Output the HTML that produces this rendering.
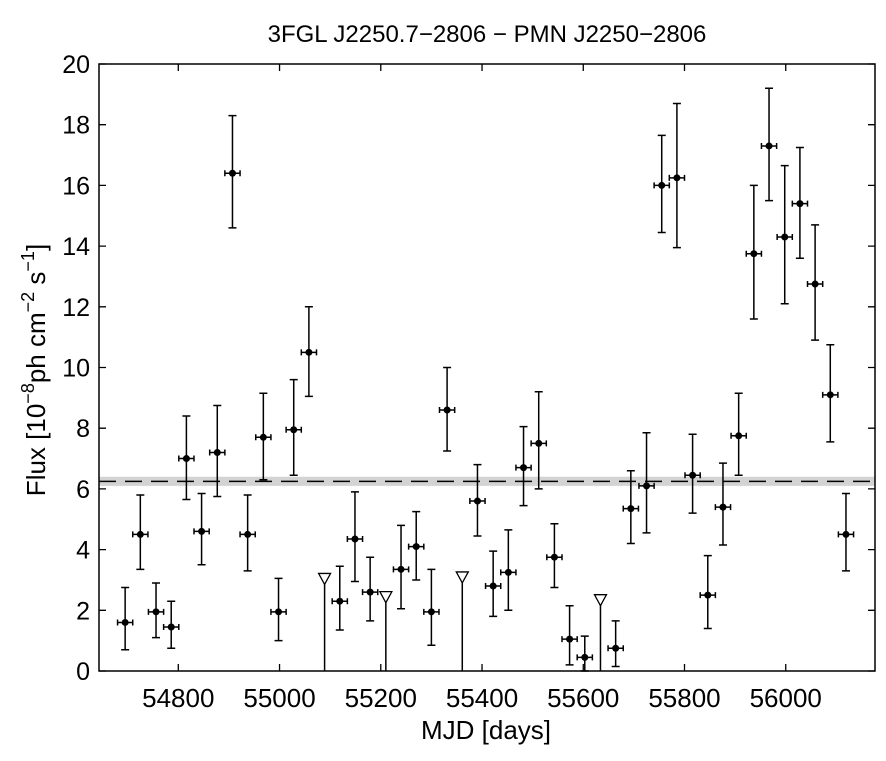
<!DOCTYPE html>
<html><head><meta charset="utf-8"><style>
body{margin:0;background:#fff}
svg{display:block;font-family:"Liberation Sans",sans-serif}
</style></head><body>
<svg id="c" width="886" height="761" viewBox="0 0 886 761">
<text x="487" y="42" font-size="24" text-anchor="middle">3FGL J2250.7−2806 − PMN J2250−2806</text>
<text x="486" y="739" font-size="26" text-anchor="middle">MJD [days]</text>
<text transform="translate(45,370) rotate(-90)" font-size="26" text-anchor="middle">Flux [10<tspan dy="-11" font-size="18">−8</tspan><tspan dy="11">ph cm</tspan><tspan dy="-11" font-size="18">−2</tspan><tspan dy="11"> s</tspan><tspan dy="-11" font-size="18">−1</tspan><tspan dy="11">]</tspan></text>
<g id="g"></g>
</svg>
<script>
const mjd=[54695,54725,54756,54786,54816,54846,54877,54907,54937,54968,54998,55028,55058,55089,55119,55149,55179,55210,55240,55270,55300,55331,55361,55391,55422,55452,55482,55512,55543,55573,55603,55634,55664,55694,55725,55755,55785,55816,55846,55876,55907,55937,55967,55998,56028,56058,56088,56119];
const flux=[1.6,4.5,1.95,1.45,7.0,4.6,7.2,16.4,4.5,7.7,1.95,7.95,10.5,3.05,2.3,4.35,2.6,2.45,3.35,4.1,1.95,8.6,3.1,5.6,2.8,3.25,6.7,7.5,3.75,1.05,0.45,2.35,0.75,5.35,6.1,16.0,16.25,6.45,2.5,5.4,7.75,13.75,17.3,14.3,15.4,12.75,9.1,4.5];
const lo=[0.7,3.35,1.1,0.75,5.65,3.5,5.75,14.6,3.3,6.3,1.0,6.45,9.05,0,1.35,2.95,1.65,0,2.05,3.0,0.85,7.25,0,4.45,1.8,2.0,5.45,6.0,2.75,0.2,0,0,0.15,4.2,4.55,14.45,13.95,5.2,1.4,4.15,6.45,11.6,15.5,12.1,13.6,10.9,7.55,3.3];
const hi=[2.75,5.8,2.9,2.3,8.4,5.85,8.75,18.3,5.8,9.15,3.05,9.6,12.0,3.05,3.45,5.9,3.75,2.45,4.8,5.25,3.35,10.0,3.1,6.8,3.95,4.65,8.05,9.2,4.85,2.15,1.15,2.35,1.65,6.6,7.85,17.65,18.7,7.8,3.8,6.85,9.15,16.0,19.2,16.65,17.25,14.7,10.75,5.85];
const upper=[0,0,0,0,0,0,0,0,0,0,0,0,0,1,0,0,0,1,0,0,0,0,1,0,0,0,0,0,0,0,0,1,0,0,0,0,0,0,0,0,0,0,0,0,0,0,0,0];
const meanFlux=[6.25],meanLo=[6.1],meanHi=[6.4];
const xTicks=[54800,55000,55200,55400,55600,55800,56000];
const yTicks=[0,2,4,6,8,10,12,14,16,18,20];
const binHalf=15;
const L=99,R=875,T=64,B=671;
const x=v=>178.3+(v-54800)*0.5062;
const y=v=>B-(v/20)*(B-T);
const g=document.getElementById('g');
const NS='http://www.w3.org/2000/svg';
function mk(t,a){const e=document.createElementNS(NS,t);for(const k in a)e.setAttribute(k,a[k]);g.appendChild(e);return e;}
let e;
e=mk('rect',{x:L,y:y(meanHi[0]),width:R-L,height:y(meanLo[0])-y(meanHi[0]),fill:'#d3d3d3'});


e=mk('line',{x1:L,x2:R,y1:y(meanFlux[0]),y2:y(meanFlux[0]),stroke:'#000','stroke-width':1.5,'stroke-dasharray':'17,9'});


for(let i=0;i<mjd.length;i++){
  const cx=x(mjd[i]);
  if(upper[i]){
    e=mk('line',{x1:cx,x2:cx,y1:B,y2:y(flux[i])-4,stroke:'#000','stroke-width':1.5});
    
    
    const yy=y(flux[i]);
    e=mk('path',{d:`M${cx-6},${yy-5}L${cx+6},${yy-5}L${cx},${yy+6}Z`,fill:'#fff',stroke:'#000','stroke-width':1.3});
    
    
  }else{
    const y1=y(hi[i]),y0=y(lo[i]),yc=y(flux[i]),x0=x(mjd[i]-binHalf),x1=x(mjd[i]+binHalf);
    e=mk('path',{d:`M${cx},${y1}V${y0}M${cx-4},${y1}H${cx+4}M${cx-4},${y0}H${cx+4}M${x0},${yc}H${x1}M${x0},${yc-3}V${yc+3}M${x1},${yc-3}V${yc+3}`,stroke:'#000','stroke-width':1.5,fill:'none'});
    
    
    e=mk('circle',{cx:cx,cy:yc,r:3.5,fill:'#000'});
    
    
  }
}
e=mk('rect',{x:L,y:T,width:R-L,height:B-T,fill:'none',stroke:'#000','stroke-width':1.5});


xTicks.forEach(v=>{
  e=mk('path',{d:`M${x(v)},${B}v-7M${x(v)},${T}v7`,stroke:'#000','stroke-width':1.3});
  
  
  e=mk('text',{x:x(v),y:B+36,'font-size':26,'text-anchor':'middle'});e.textContent=v;
  
  
});
yTicks.forEach(v=>{
  e=mk('path',{d:`M${L},${y(v)}h7M${R},${y(v)}h-7`,stroke:'#000','stroke-width':1.3});
  
  
  e=mk('text',{x:L-9,y:y(v)+9,'font-size':25,'text-anchor':'end'});e.textContent=v;
  
  
});
</script>
</body></html>
